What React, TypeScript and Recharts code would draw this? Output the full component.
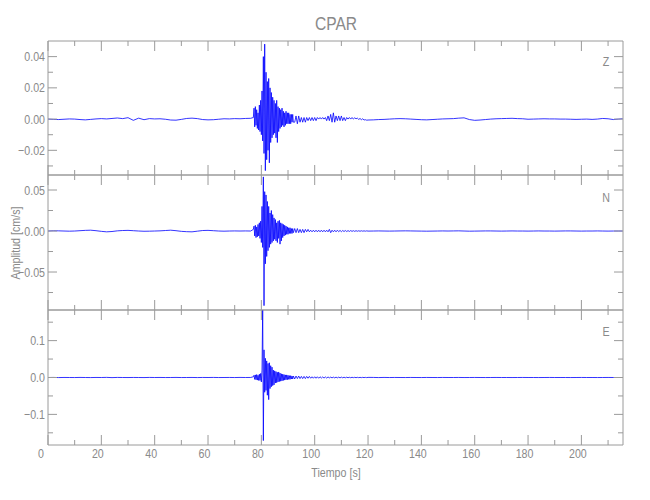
import { LineChart, Line, XAxis, YAxis } from "recharts";

// sample times [s]
const tPre = [0, 2, 4, 6, 8, 10, 12, 14, 16, 18, 20, 22, 24, 26, 28, 30, 32, 34, 36, 38,
  40, 42, 44, 46, 48, 50, 52, 54, 56, 58, 60, 62, 64, 66, 68, 70, 72, 74, 76];
const tBurst = [77, 77.25, 77.5, 77.75, 78, 78.25, 78.5, 78.75, 79, 79.25,
  79.5, 79.75, 80, 80.25, 80.5, 80.75, 81, 81.25, 81.5, 81.75,
  82, 82.25, 82.5, 82.75, 83, 83.25, 83.5, 83.75, 84, 84.25,
  84.5, 84.75, 85, 85.25, 85.5, 85.75, 86, 86.25, 86.5, 86.75,
  87, 87.25, 87.5, 87.75, 88, 88.25, 88.5, 88.75, 89, 89.25,
  89.5, 89.75, 90, 90.25, 90.5, 90.75, 91, 91.25, 91.5, 91.75, 92];
const tCoda = [92.5, 93, 93.5, 94, 94.5, 95, 95.5, 96, 96.5, 97,
  97.5, 98, 98.5, 99, 99.5, 100, 100.5, 101, 101.5, 102,
  102.5, 103, 103.5, 104, 104.5, 105, 105.5, 106, 106.5, 107,
  107.5, 108, 108.5, 109, 109.5, 110, 110.5, 111, 111.5, 112,
  112.5, 113, 113.5, 114, 114.5, 115, 115.5, 116, 116.5, 117,
  117.5, 118, 118.5, 119, 119.5, 120];
const tTail = [122, 124, 126, 128, 130, 132, 134, 136, 138, 140,
  142, 144, 146, 148, 150, 152, 154, 156, 158, 160,
  162, 164, 166, 168, 170, 172, 174, 176, 178, 180,
  182, 184, 186, 188, 190, 192, 194, 196, 198, 200,
  202, 204, 206, 208, 210, 212, 214, 215.5];

// Z component [cm/s]
const zPre = [0, -0.0002, -0.0003, -0.0001, 0.0001, 0, -0.0003, -0.0005, -0.0002, 0.0001,
  0.0003, 0.0001, 0.0004, 0.0007, 0.0003, 0.0009, -0.0008, 0.0006, -0.0004, 0.0003,
  0.0001, 0.0002, -0.0001, -0.0006, -0.0007, -0.0002, 0.0004, 0.0006, 0.0003, -0.0003,
  -0.0005, -0.0004, -0.0001, 0.0002, 0.0001, 0.0003, 0.0002, 0.0004, 0.0005];
const zBurst = [0.001, 0.007, -0.005, 0.008, -0.004, 0.006, -0.006, 0.004, -0.007, 0.009,
  -0.008, 0.012, -0.010, 0.018, -0.014, 0.040, -0.022, 0.048, -0.033, 0.030,
  -0.026, 0.024, -0.020, 0.026, -0.028, 0.020, -0.015, 0.017, -0.012, 0.014,
  -0.010, 0.012, -0.009, 0.010, -0.012, 0.012, -0.015, 0.008, -0.008, 0.007,
  -0.006, 0.006, -0.005, 0.007, -0.004, 0.005, -0.005, 0.004, -0.004, 0.005,
  -0.003, 0.004, -0.003, 0.004, -0.003, 0.003, -0.003, 0.003, -0.002, 0.003, -0.002];
const zCoda = [-0.002, 0.002, -0.003, 0.002, -0.002, 0.001, -0.002, 0.001, -0.002, 0.001,
  -0.001, 0.001, -0.001, 0.001, -0.001, 0.001, -0.001, 0.001, 0, 0.001,
  0, 0.001, 0, 0.001, -0.001, 0.002, -0.001, 0.003, -0.002, 0.004,
  -0.002, 0.002, -0.001, 0.002, -0.001, 0.002, -0.001, 0.001, -0.001, 0.001,
  0, 0.001, 0, 0.001, 0, 0.0008, 0.0002, 0.0006, -0.0002, 0.0004,
  -0.0004, 0.0002, -0.0006, -0.0004, -0.0007, -0.0006];
const zTail = [-0.0005, -0.0003, -0.0002, 0, 0.0002, 0.0003, 0.0002, 0, -0.0002, -0.0004,
  -0.0005, -0.0003, -0.0001, 0.0001, 0.0002, 0.0003, 0.0006, 0.0008, -0.0003, -0.0008,
  -0.0006, -0.0003, 0, 0.0002, 0.0003, 0.0004, 0.0005, 0.0003, 0.0002, -0.0001,
  0, 0.0001, 0.0002, 0.0001, 0.0001, 0, 0, -0.0001, -0.0002, -0.0001,
  0, -0.0002, 0, 0.0004, 0.0002, -0.0003, 0, 0.0002];

// N component [cm/s]
const nPre = [0, 0.0003, 0.0002, 0, -0.0002, 0, 0.0004, 0.0008, 0.0010, 0.0004,
  -0.0004, -0.0010, -0.0006, 0.0002, 0.0006, 0.0008, 0.0004, 0, -0.0003, -0.0002,
  0, 0.0002, 0.0006, 0.0010, 0.0004, -0.0004, -0.0008, -0.0010, -0.0002, 0.0006,
  0.0008, 0.0004, 0, -0.0002, 0, 0.0001, 0, 0.0001, 0];
const nBurst = [0.002, 0.006, -0.006, 0.007, -0.008, 0.005, -0.007, 0.008, -0.006, 0.010,
  -0.009, 0.012, -0.014, 0.030, -0.020, 0.066, -0.091, 0.048, -0.040, 0.044,
  -0.031, 0.036, -0.024, 0.030, -0.020, 0.022, -0.016, 0.025, -0.014, 0.020,
  -0.012, 0.016, -0.010, 0.014, -0.012, 0.010, -0.014, 0.012, -0.009, 0.013,
  -0.016, 0.010, -0.012, 0.009, -0.008, 0.008, -0.006, 0.007, -0.005, 0.006,
  -0.004, 0.005, -0.004, 0.004, -0.003, 0.004, -0.003, 0.003, -0.003, 0.003, -0.002];
const nCoda = [0.003, -0.002, 0.003, -0.002, 0.002, -0.002, 0.002, -0.002, 0.002, -0.001,
  0.002, -0.001, 0.001, -0.001, 0.001, -0.001, 0.001, -0.001, 0.001, -0.001,
  0.001, -0.001, 0.001, -0.001, 0.001, -0.001, 0.002, -0.002, 0.001, -0.001,
  0.001, -0.001, 0.001, -0.0008, 0.0008, -0.0008, 0.0006, -0.0006, 0.0006, -0.0006,
  0.0005, -0.0005, 0.0005, -0.0004, 0.0004, -0.0004, 0.0004, -0.0003, 0.0003, -0.0003,
  0.0003, -0.0002, 0.0002, -0.0002, 0.0002, -0.0001];
const nTail = [0, 0.0001, 0, -0.0001, 0, 0.0001, 0.0002, 0.0001, 0, -0.0001,
  -0.0002, -0.0001, 0, 0.0001, 0, 0.0001, 0.0002, 0, -0.0002, -0.0001,
  0, 0.0001, 0.0001, 0, -0.0001, 0, 0.0001, 0, 0, -0.0001,
  0, 0.0001, 0, 0, -0.0001, 0, 0.0001, 0.0001, 0, -0.0001,
  0, 0, 0.0001, 0, -0.0001, 0, 0, 0];

// E component [cm/s]
const ePre = [0, 0.0002, -0.0002, 0.0001, 0, -0.0001, 0.0002, 0, -0.0002, 0.0001,
  0, 0.0003, -0.0003, 0.0002, 0, -0.0001, 0.0001, 0, -0.0002, 0.0002,
  0, 0.0001, -0.0001, 0, 0.0002, -0.0001, 0, 0.0001, -0.0002, 0.0001,
  0, 0.0002, -0.0001, 0, 0.0001, -0.0001, 0.0002, 0, 0.0001];
const eBurst = [0.002, 0.006, -0.005, 0.007, -0.006, 0.008, -0.007, 0.006, -0.008, 0.009,
  -0.008, 0.011, -0.012, 0.020, 0.190, -0.171, 0.075, -0.040, 0.052, -0.035,
  0.045, -0.048, 0.038, -0.060, 0.040, -0.030, 0.032, -0.025, 0.028, -0.022,
  0.020, -0.020, 0.018, -0.015, 0.016, -0.014, 0.014, -0.012, 0.015, -0.011,
  0.012, -0.010, 0.010, -0.009, 0.009, -0.008, 0.008, -0.007, 0.007, -0.006,
  0.007, -0.006, 0.006, -0.005, 0.005, -0.005, 0.005, -0.004, 0.004, -0.004, 0.004];
const eCoda = [-0.004, 0.004, -0.003, 0.004, -0.003, 0.003, -0.003, 0.003, -0.003, 0.003,
  -0.002, 0.003, -0.002, 0.002, -0.002, 0.002, -0.002, 0.002, -0.002, 0.002,
  -0.0015, 0.0015, -0.0015, 0.0015, -0.0015, 0.0015, -0.001, 0.001, -0.001, 0.001,
  -0.001, 0.001, -0.001, 0.001, -0.001, 0.001, -0.0008, 0.0008, -0.0008, 0.0008,
  -0.0006, 0.0006, -0.0006, 0.0006, -0.0005, 0.0005, -0.0005, 0.0005, -0.0004, 0.0004,
  -0.0004, 0.0004, -0.0003, 0.0003, -0.0003, 0.0003];
const eTail = [0.0002, -0.0002, 0.0002, -0.0001, 0.0001, 0, -0.0001, 0.0001, 0, -0.0001,
  0.0001, 0, -0.0001, 0.0001, 0, 0, 0.0001, -0.0001, 0, 0.0001,
  0, -0.0001, 0, 0.0001, 0, 0, -0.0001, 0, 0.0001, 0,
  0, -0.0001, 0, 0.0001, 0, 0, 0, -0.0001, 0, 0.0001,
  0, 0, -0.0001, 0, 0.0001, 0, 0, 0];

const xTicks = [0, 10, 20, 30, 40, 50, 60, 70, 80, 90, 100, 110, 120, 130, 140, 150, 160, 170, 180, 190, 200, 210];
const zTicks = [-0.03, -0.02, -0.01, 0, 0.01, 0.02, 0.03, 0.04];
const nTicks = [-0.075, -0.05, -0.025, 0, 0.025, 0.05];
const eTicks = [-0.15, -0.1, -0.05, 0, 0.05, 0.1, 0.15];

const time = [...tPre, ...tBurst, ...tCoda, ...tTail];

const AXIS = "#9a9a9a";
const TEXT = "#8a8a8a";
const FONT = "'Liberation Sans', 'DejaVu Sans', sans-serif";
const W = 650;
const H = 500;
const LEFT = 48;
const RIGHT = 623;
const NARROW = 0.82;

const panels = [
  { name: "Z", values: [...zPre, ...zBurst, ...zCoda, ...zTail], ticks: zTicks, domain: [-0.0358, 0.05], major: 0.02, digits: 2, top: 41, bottom: 175, letterY: 61 },
  { name: "N", values: [...nPre, ...nBurst, ...nCoda, ...nTail], ticks: nTicks, domain: [-0.0963, 0.0683], major: 0.05, digits: 2, top: 175, bottom: 310, letterY: 197 },
  { name: "E", values: [...ePre, ...eBurst, ...eCoda, ...eTail], ticks: eTicks, domain: [-0.183, 0.183], major: 0.1, digits: 1, top: 310, bottom: 445, letterY: 331 },
];

const isMajor = (v: number, step: number) => Math.abs(v / step - Math.round(v / step)) < 1e-6;
const fmt = (v: number, d: number) => (v < -1e-9 ? "\u2212" : "") + Math.abs(v).toFixed(d);

function YTick(props: any) {
  const { x, y, payload, tickSide, majorStep, decimals, showLabel } = props;
  const big = isMajor(payload.value, majorStep);
  const len = big ? 9 : 5;
  const dir = tickSide === "left" ? 1 : -1;
  return (
    <g>
      <line x1={x} y1={y} x2={x + dir * len} y2={y} stroke={AXIS} strokeWidth={1} />
      {showLabel && big && (
        <text transform={`translate(${x - 3},${y + 4.5}) scale(${NARROW},1)`} textAnchor="end" fill={TEXT} fontSize={13} fontFamily={FONT}>
          {fmt(payload.value, decimals)}
        </text>
      )}
    </g>
  );
}

function XTick(props: any) {
  const { x, y, payload, tickSide, showLabel } = props;
  const big = isMajor(payload.value, 20);
  const len = big ? 10 : 5;
  const dir = tickSide === "bottom" ? -1 : 1;
  const shift = payload.value === 0 ? 7 : 3.5;
  return (
    <g>
      <line x1={x} y1={y} x2={x} y2={y + dir * len} stroke={AXIS} strokeWidth={1} />
      {showLabel && big && (
        <text transform={`translate(${x - shift},${y + 13}) scale(${NARROW},1)`} textAnchor="middle" fill={TEXT} fontSize={13} fontFamily={FONT}>
          {payload.value}
        </text>
      )}
    </g>
  );
}

const htmlText = (left: number, top: number, size: number, extra = "") => ({
  position: "absolute" as const,
  left,
  top,
  transform: `translate(-50%, -50%) ${extra} scaleX(${NARROW})`,
  fontSize: size,
  lineHeight: 1,
  whiteSpace: "nowrap" as const,
});

export default function App() {
  return (
    <div style={{ position: "absolute", left: 0, top: 0, width: W, height: H, background: "#fff", fontFamily: FONT, color: TEXT }}>
      {panels.map((p, i) => {
        const data = time.map((t, k) => ({ t, v: p.values[k] }));
        const last = i === panels.length - 1;
        return (
          <div key={p.name} style={{ position: "absolute", left: 0, top: 0 }}>
            <LineChart
              width={W}
              height={H}
              data={data}
              margin={{ top: p.top - 1, bottom: H - p.bottom - 1, left: LEFT - 1, right: W - RIGHT - 1 }}
            >
              <XAxis xAxisId="b" dataKey="t" type="number" domain={[0, 215.6]} allowDataOverflow ticks={xTicks} interval={0}
                height={1} tickSize={0} tickMargin={0} tickLine={false} axisLine={{ stroke: AXIS }}
                tick={<XTick tickSide="bottom" showLabel={last} />} />
              <XAxis xAxisId="t" orientation="top" dataKey="t" type="number" domain={[0, 215.6]} allowDataOverflow ticks={xTicks} interval={0}
                height={1} tickSize={0} tickMargin={0} tickLine={false} axisLine={{ stroke: AXIS }}
                tick={<XTick tickSide="top" showLabel={false} />} />
              <YAxis yAxisId="l" type="number" domain={p.domain} allowDataOverflow ticks={p.ticks} interval={0}
                width={1} tickSize={0} tickMargin={0} tickLine={false} axisLine={{ stroke: AXIS }}
                tick={<YTick tickSide="left" majorStep={p.major} decimals={p.digits} showLabel />} />
              <YAxis yAxisId="r" orientation="right" type="number" domain={p.domain} allowDataOverflow ticks={p.ticks} interval={0}
                width={1} tickSize={0} tickMargin={0} tickLine={false} axisLine={{ stroke: AXIS }}
                tick={<YTick tickSide="right" majorStep={p.major} decimals={p.digits} showLabel={false} />} />
              <Line xAxisId="b" yAxisId="l" dataKey="v" type="linear" stroke="#0000ff" strokeWidth={0.8}
                dot={false} activeDot={false} isAnimationActive={false} />
            </LineChart>
            <div style={htmlText(606, p.letterY, 13)}>{p.name}</div>
          </div>
        );
      })}
      <div style={htmlText(335.5, 22.5, 19)}>CPAR</div>
      <div style={htmlText(15, 243, 13, "rotate(-90deg)")}>Amplitud [cm/s]</div>
      <div style={htmlText(335.8, 472, 13)}>Tiempo [s]</div>
    </div>
  );
}
